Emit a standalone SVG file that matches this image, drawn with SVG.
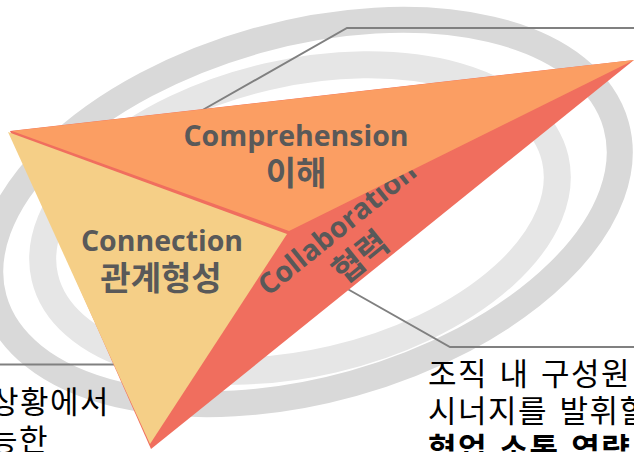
<svg xmlns="http://www.w3.org/2000/svg" width="634" height="452" viewBox="0 0 634 452">
<style>
.ring{fill:none}
.lead{fill:none;stroke:#808080;stroke-width:2}
.lbl{font-family:"Open Sans","Noto Sans CJK KR",sans-serif;font-weight:700;font-size:28.5px;fill:#595959;text-anchor:middle}
.kr{font-family:"Noto Sans CJK KR",sans-serif;font-weight:700;font-size:33px;fill:#595959;text-anchor:middle}
.body{font-family:"Noto Sans CJK KR",sans-serif;font-size:31px;letter-spacing:1.5px;word-spacing:3px;fill:#000000}
</style>
<rect width="634" height="452" fill="#ffffff"/>
<g id="rings">
<ellipse class="ring" cx="305" cy="212" rx="323" ry="178" transform="rotate(-15.6 305 212)" stroke="#d9d9d9" stroke-width="26"/>
<ellipse class="ring" cx="300" cy="218" rx="262" ry="145" transform="rotate(-13.1 300 218)" stroke="#e6e6e6" stroke-width="27"/>
</g>
<g id="connectors">
<polyline class="lead" points="192,116 347,28 634,28"/>
<polyline class="lead" points="344,287 450,347 634,347"/>
<polyline class="lead" points="0,364.5 118,364.5"/>
</g>
<g id="collaboration">
<polygon points="10,131 634,60 151,449" fill="#f06e5e"/>
<g transform="translate(337,228) rotate(-39)">
<text class="lbl" x="0" y="10">Collaboration</text>
<text class="kr" x="0" y="49">협력</text>
</g>
</g>
<g id="comprehension">
<polygon points="12,131 634,60 289,231" fill="#fb9e63"/>
<text class="lbl" x="296" y="146">Comprehension</text>
<text class="kr" x="296" y="185">이해</text>
</g>
<g id="connection">
<polygon points="8,132 287,234 150,444" fill="#f5cf87"/>
<text class="lbl" x="162" y="251">Connection</text>
<text class="kr" x="161" y="290">관계형성</text>
</g>
<g id="text-left">
<text class="body" x="110" y="413" text-anchor="end">상황에서</text>
<text class="body" x="49" y="451" text-anchor="end">능한</text>
</g>
<g id="text-right">
<text class="body" x="428" y="385">조직 내 구성원</text>
<text class="body" x="428" y="422">시너지를 발휘할</text>
<text class="body" x="428" y="460" font-weight="700">협업 소통 역량</text>
</g>
</svg>
